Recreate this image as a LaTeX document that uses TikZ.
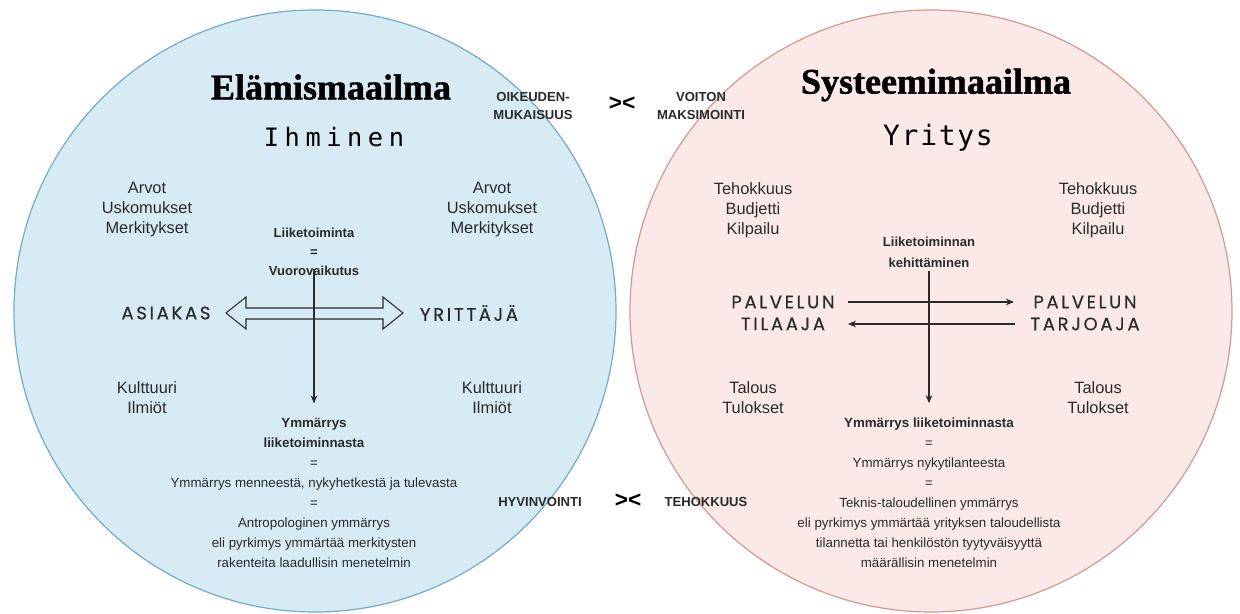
\documentclass[tikz,border=0pt]{standalone}
\usepackage{fontspec}
\setmainfont{Liberation Sans}
\newfontfamily\titlefont{Liberation Serif}[BoldFeatures={FakeBold=1.2}]
\newfontfamily\wordfont{DejaVu Sans Mono}
\newfontfamily\capsfont{Poppins}[LetterSpace=15, FakeBold=0.4]
\usetikzlibrary{arrows.meta}
\definecolor{lfill}{HTML}{D6EBF4}
\definecolor{lline}{HTML}{72ACC8}
\definecolor{rfill}{HTML}{FBE9E7}
\definecolor{rline}{HTML}{D6978F}
\definecolor{ink}{HTML}{2A2A2A}
\tikzset{
  world/.style={line width=0.9pt},
  body/.style={text=ink, align=center, inner sep=0pt,
    font=\fontsize{12.3}{15}\selectfont},
  note/.style={text=ink, align=center, inner sep=0pt,
    font=\fontsize{10}{15}\selectfont},
  keynote/.style={text=ink, align=center, inner sep=0pt,
    font=\bfseries\fontsize{9.8}{14.2}\selectfont},
  title/.style={text=black, inner sep=0pt,
    font=\titlefont\bfseries\fontsize{27}{30}\selectfont},
  subtitle/.style={text=black, inner sep=0pt,
    font=\wordfont\fontsize{19}{22}\selectfont},
  role/.style={text=ink, inner sep=0pt,
    font=\capsfont\fontsize{13.5}{16}\selectfont},
  versus/.style={text=black, inner sep=0pt,
    font=\bfseries\fontsize{17}{20}\selectfont},
  flow/.style={line width=0.8pt, draw=ink, -{Stealth[length=6pt,width=5pt]}},
}
\begin{document}
\begin{tikzpicture}[x=0.75pt, y=-0.75pt]
\useasboundingbox (0,0) rectangle (1240,614);

% the two worlds
\draw[world, draw=lline, fill=lfill] (315,311) circle[radius=301];
\draw[world, draw=rline, fill=rfill] (931,311) circle[radius=301];

% titles
\node[title] (ltitle) at (331,87) {Elämismaailma};
\node[title] (rtitle) at (936,85) {Systeemimaailma};
\node[subtitle] (lsub) at (334,137) {\addfontfeatures{LetterSpace=22}Ihminen};
\node[subtitle, font=\wordfont\fontsize{21}{24}\selectfont] (rsub) at (938,138) {\addfontfeatures{LetterSpace=6}Yritys};

% opposing values between the worlds
\node[keynote] (oik) at (533,106) {OIKEUDEN-\\MUKAISUUS};
\node[versus] (vs1) at (622,104) {><};
\node[keynote] (voi) at (701,106) {VOITON\\MAKSIMOINTI};
\node[keynote] (hyv) at (540,502) {HYVINVOINTI};
\node[versus] (vs2) at (628,501) {><};
\node[keynote] (teh) at (706,502) {TEHOKKUUS};

% left world: corner words
\node[body] (lvals1) at (147,210) {Arvot\\Uskomukset\\Merkitykset};
\node[body] (lvals2) at (492,210) {Arvot\\Uskomukset\\Merkitykset};
\node[body] (lcult1) at (147,398) {Kulttuuri\\Ilmiöt};
\node[body] (lcult2) at (492,398) {Kulttuuri\\Ilmiöt};

% left world: centre
\node[keynote, font=\bfseries\fontsize{9.8}{14.3}\selectfont] (lbiz) at (314,252) {Liiketoiminta\\=\\Vuorovaikutus};
\node[role] (asiakas) at (166,313) {ASIAKAS};
\node[role] (yrittaja) at (469,313) {YRITTÄJÄ};
\node[note] (lund) at (314,493) {\textbf{Ymmärrys}\\\textbf{liiketoiminnasta}\\=\\Ymmärrys menneestä, nykyhetkestä ja tulevasta\\=\\Antropologinen ymmärrys\\eli pyrkimys ymmärtää merkitysten\\rakenteita laadullisin menetelmin};

\draw[flow, shorten <=-5pt, shorten >=11pt] (lbiz.south) -- (lund.north);
\draw[line width=0.8pt, draw=ink, line join=miter]
  (226,313) -- (246,297) -- (246,308) -- (383,308) -- (383,297) -- (403,313)
  -- (383,329) -- (383,319) -- (246,319) -- (246,329) -- cycle;

% right world: corner words
\node[body] (rvals1) at (753,210) {Tehokkuus\\Budjetti\\Kilpailu};
\node[body] (rvals2) at (1098,210) {Tehokkuus\\Budjetti\\Kilpailu};
\node[body] (rres1) at (753,398) {Talous\\Tulokset};
\node[body] (rres2) at (1098,398) {Talous\\Tulokset};

% right world: centre
\node[keynote, font=\bfseries\fontsize{9.8}{15.5}\selectfont] (rbiz) at (929,252) {Liiketoiminnan\\kehittäminen};
\node[role] (pal1) at (783,302) {PALVELUN};
\node[role] (til) at (783,324) {TILAAJA};
\node[role] (pal2) at (1085,302) {PALVELUN};
\node[role] (tar) at (1085,324) {TARJOAJA};
\node[note] (rund) at (929,493) {\textbf{Ymmärrys liiketoiminnasta}\\=\\Ymmärrys nykytilanteesta\\=\\Teknis-taloudellinen ymmärrys\\eli pyrkimys ymmärtää yrityksen taloudellista\\tilannetta tai henkilöstön tyytyväisyyttä\\määrällisin menetelmin};

\draw[flow, shorten <=3pt, shorten >=11pt] (rbiz.south) -- (rund.north);
\draw[flow] (pal1.east -| 848,0) -- (pal1.east -| 1014,0);
\draw[flow] (tar.west -| 1015,0) -- (tar.west -| 848,0);
\end{tikzpicture}
\end{document}
